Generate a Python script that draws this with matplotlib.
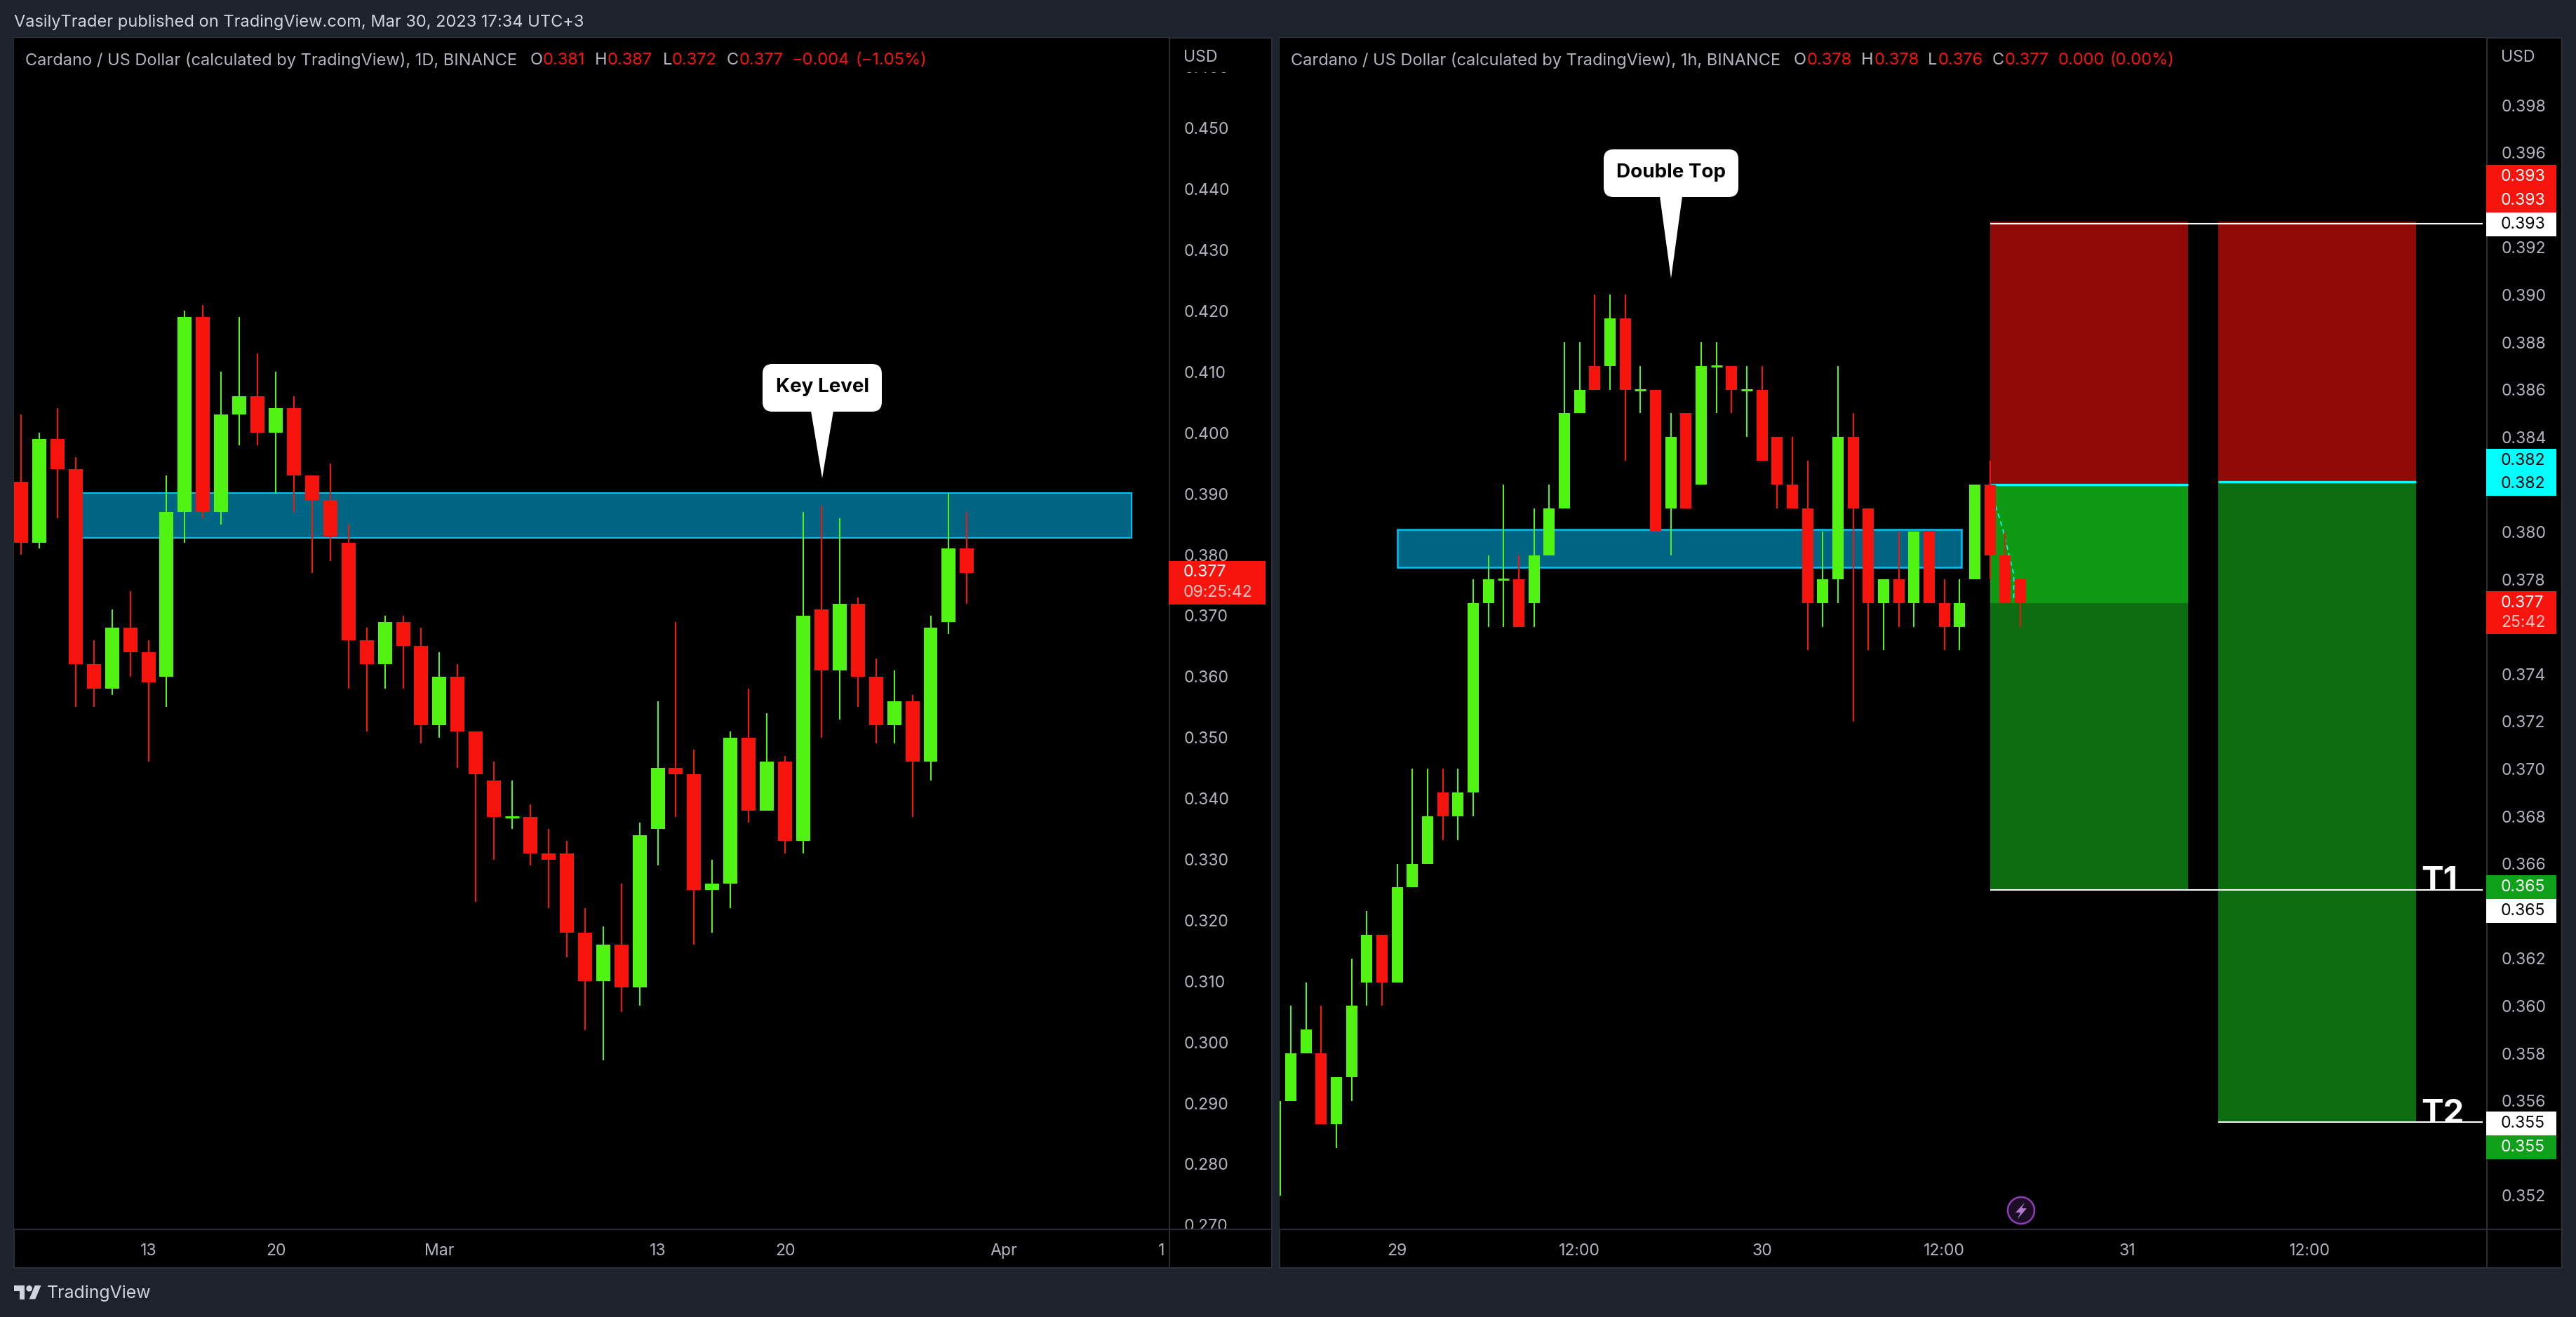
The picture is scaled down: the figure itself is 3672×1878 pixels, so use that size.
import matplotlib
matplotlib.use("Agg")
import matplotlib.pyplot as plt
import numpy as np
from matplotlib.patches import Rectangle, Polygon, Circle, FancyBboxPatch
from matplotlib.transforms import Affine2D

plt.rcParams["font.family"] = ["Inter", "DejaVu Sans"]

# daily candles
d_open = [.392, .382, .399, .394, .362, .358, .368, .364, .360, .387, .419, .387, .403, .406, .400, .404, .393, .389,
          .382, .366, .362, .369, .365, .352, .360, .351, .343, .337, .337, .331, .331, .318, .310, .316, .309, .335,
          .345, .344, .325, .326, .350, .338, .346, .333, .371, .361, .372, .360, .352, .356, .346, .369, .381]
d_high = [.403, .400, .404, .396, .366, .371, .374, .366, .393, .420, .421, .410, .419, .413, .410, .406, .393, .395,
          .385, .368, .370, .370, .368, .364, .362, .351, .346, .343, .339, .335, .333, .322, .319, .326, .336, .356,
          .369, .348, .330, .351, .358, .354, .347, .387, .388, .386, .373, .363, .361, .357, .370, .390, .387]
d_low = [.380, .381, .386, .355, .355, .357, .360, .346, .355, .382, .386, .385, .398, .398, .390, .387, .377, .379,
         .358, .351, .358, .358, .349, .350, .345, .323, .330, .335, .329, .322, .314, .302, .297, .305, .306, .329,
         .337, .316, .318, .322, .336, .338, .331, .331, .350, .353, .355, .349, .349, .337, .343, .367, .372]
d_close = [.382, .399, .394, .362, .358, .368, .364, .359, .387, .419, .387, .403, .406, .400, .404, .393, .389, .383,
           .366, .362, .369, .365, .352, .360, .351, .344, .337, .337, .331, .330, .318, .310, .316, .309, .334, .345,
           .344, .325, .326, .350, .338, .346, .333, .370, .361, .372, .360, .352, .356, .346, .368, .381, .377]

# hourly candles
h_open = [.352, .356, .358, .358, .355, .357, .361, .363, .361, .365, .366, .369, .368, .369, .377, .378, .378, .377,
          .379, .381, .385, .387, .387, .389, .386, .386, .381, .385, .382, .387, .387, .386, .386, .384, .382, .381,
          .377, .378, .384, .381, .377, .378, .377, .380, .377, .376, .378, .382, .379, .378]
h_high = [.356, .360, .361, .360, .357, .362, .364, .363, .366, .370, .370, .370, .370, .378, .379, .382, .379, .381,
          .382, .388, .388, .390, .390, .390, .387, .386, .385, .385, .388, .388, .387, .387, .387, .384, .384, .383,
          .380, .387, .385, .381, .378, .380, .380, .380, .378, .378, .382, .383, .380, .378]
h_low = [.352, .356, .358, .355, .354, .356, .360, .360, .361, .365, .366, .367, .367, .368, .376, .376, .376, .376,
         .379, .381, .385, .386, .386, .383, .385, .380, .379, .381, .382, .385, .385, .384, .383, .381, .381, .375,
         .376, .377, .372, .375, .375, .376, .376, .377, .375, .375, .378, .378, .377, .376]
h_close = [.356, .358, .359, .355, .357, .360, .363, .361, .365, .366, .368, .368, .369, .377, .378, .378, .376, .379,
           .381, .385, .386, .386, .389, .386, .386, .380, .384, .381, .387, .387, .386, .386, .383, .382, .381, .377,
           .378, .384, .381, .377, .378, .377, .380, .377, .376, .377, .382, .379, .377, .377]

d_ticks = [.270, .280, .290, .300, .310, .320, .330, .340, .350, .360, .370, .380, .390, .400, .410, .420, .430, .440,
           .450, .460]
h_ticks = [.352, .356, .358, .360, .362, .366, .368, .370, .372, .374, .378, .380, .384, .386, .388, .390, .392, .396,
           .398]
d_xticks = [7, 14, 23, 35, 42, 54, 62.7]
d_xlabels = ["13", "20", "Mar", "13", "20", "Apr", "1"]
h_xticks = [8, 20, 32, 44, 56, 68]
h_xlabels = ["29", "12:00", "30", "12:00", "31", "12:00"]

key_level = [.3828, .3901]
neckline = [.3785, .3801]
stop = .3931
entry_a = .3820
entry_b = .3821
now = .377
t1 = .3649
t2 = .3551
path_x = [47.36, 47.85, 48.56, 48.56]
path_y = [.3811, .3801, .3782, .3772]

UP = "#50F312"
DOWN = "#F7140C"
BG = "#1E222D"
TEXT = "#B2B5BE"
LINE = "#2A2C33"
RED_BOX = "#8F0A06"
GREEN_BOX = "#0F9A14"
DARK_GREEN = "#0D6E11"
ZONE = "#006684"
ZONE_EDGE = "#00C2F5"
TAG_GREEN = "#10A11B"
CYAN = "#00FFFF"
W, H = 3672, 1878
FS = 16.6
HEAD = 17

fig = plt.figure(figsize=(W / 100, H / 100), dpi=100, facecolor=BG)
pix = Affine2D().scale(1, -1).translate(0, H)


def rect(x0, y0, x1, y1, color, z=1, edge="none", lw=0):
    fig.add_artist(Rectangle((x0, y0), x1 - x0, y1 - y0, transform=pix, facecolor=color, edgecolor=edge, linewidth=lw, zorder=z))


def label(x, y, s, color=TEXT, size=FS, ha="left", weight="normal", z=5):
    fig.text(x, y, s, transform=pix, color=color, fontsize=size, ha=ha, va="center", fontweight=weight, zorder=z)


def tag(y0, y1, s, color, tcolor, x0=3544, x1=3644, tx=3565):
    rect(x0, y0, x1, y1, color, z=4)
    label(tx, (y0 + y1) / 2, s, tcolor)


def make_axes(x0, x1, x_first, step, y_ref, p_ref, scale):
    ax = fig.add_axes([x0 / W, 1 - 1753 / H, (x1 - x0) / W, (1753 - 54) / H], facecolor="black")
    ax.set_xlim((x0 - x_first) / step, (x1 - x_first) / step)
    ax.set_ylim(p_ref - (1753 - y_ref) / scale, p_ref + (y_ref - 54) / scale)
    for s in ax.spines.values():
        s.set_visible(False)
    ax.yaxis.tick_right()
    ax.tick_params(axis="both", length=0, labelcolor=TEXT, labelsize=FS)
    ax.tick_params(axis="y", pad=14.6)
    ax.tick_params(axis="x", pad=14.5)
    return ax


def candles(ax, o, h, l, c, width):
    o, h, l, c = map(np.array, (o, h, l, c))
    x = np.arange(len(o))
    colors = [UP if b >= a else DOWN for a, b in zip(o, c)]
    ax.vlines(x, l, h, colors=colors, linewidth=1.44, zorder=5)
    bottom = np.minimum(o, c)
    ax.bar(x, np.abs(c - o), width, bottom=bottom, color=colors, linewidth=0, zorder=6)
    flat = o == c
    ax.hlines(o[flat], x[flat] - width / 2, x[flat] + width / 2, color=UP, linewidth=2.2, zorder=6)


# panes
for x0, x1, div in [(20, 1813, 1667), (1824, 3652, 3545)]:
    rect(x0, 54, x1, 1808, "black", z=-1, edge="#2A2E39", lw=1.5)

ax1 = make_axes(20, 1667, 30, 25.93, 182.7, .450, 8690)
ax2 = make_axes(1824, 3545, 1818.3, 21.67, 150, .398, 33800)

candles(ax1, d_open, d_high, d_low, d_close, 0.771)
candles(ax2, h_open, h_high, h_low, h_close, 0.738)

ax1.set_yticks(d_ticks, [f"{v:.3f}" for v in d_ticks])
ax2.set_yticks(h_ticks, [f"{v:.3f}" for v in h_ticks])
ax1.set_xticks(d_xticks, d_xlabels)
ax2.set_xticks(h_xticks, h_xlabels)

ax1.add_patch(Rectangle((3.2, key_level[0]), 57.85, key_level[1] - key_level[0], facecolor=ZONE, edgecolor=ZONE_EDGE, linewidth=1.5, zorder=2))
ax2.add_patch(Rectangle((8, neckline[0]), 37.1, neckline[1] - neckline[0], facecolor=ZONE, edgecolor=ZONE_EDGE, linewidth=1.8, zorder=2))

# short position boxes
ax2.fill_between([47, 60], entry_a, stop, color=RED_BOX, linewidth=0, zorder=1)
ax2.fill_between([47, 60], now, entry_a, color=GREEN_BOX, linewidth=0, zorder=1)
ax2.fill_between([47, 60], t1, now, color=DARK_GREEN, linewidth=0, zorder=1)
ax2.fill_between([62, 75], entry_b, stop, color=RED_BOX, linewidth=0, zorder=1)
ax2.fill_between([62, 75], t2, entry_b, color=DARK_GREEN, linewidth=0, zorder=1)
ax2.hlines([entry_a, entry_b], [47, 62], [60, 75], color=CYAN, linewidth=2.4, zorder=3)
ax2.hlines([.393, t1, t2], [47, 47, 62], 79.4, color="white", linewidth=1.5, zorder=3)
ax2.plot(path_x, path_y, color=CYAN, linewidth=1.2, linestyle=(0, (4, 3)), zorder=3)

# price axis covers and dividers
rect(1668, 55, 1812, 103, "black", z=2)
rect(1668, 1754, 1812, 1807, "black", z=2)
rect(1666, 54, 1668, 1808, LINE, z=3)
rect(3544, 54, 3546, 1808, LINE, z=3)
rect(20, 1752, 1813, 1754, LINE, z=3)
rect(1824, 1752, 3652, 1754, LINE, z=3)

label(1687, 82, "USD")
label(3565, 82, "USD")

# header and titles
label(20, 32, "VasilyTrader published on TradingView.com, Mar 30, 2023 17:34 UTC+3", color="#D1D4DC", size=HEAD)
label(36, 86, "Cardano / US Dollar (calculated by TradingView), 1D, BINANCE", size=HEAD)
for x, s, c in [(756, "O", TEXT), (774, "0.381", DOWN), (848, "H", TEXT), (866, "0.387", DOWN), (945, "L", TEXT),
                (958, "0.372", DOWN), (1036, "C", TEXT), (1054, "0.377", DOWN), (1129, "−0.004", DOWN), (1219, "(−1.05%)", DOWN)]:
    label(x, 86, s, color=c, size=HEAD)
label(1840, 86, "Cardano / US Dollar (calculated by TradingView), 1h, BINANCE", size=HEAD)
for x, s, c in [(2557, "O", TEXT), (2576, "0.378", DOWN), (2653, "H", TEXT), (2672, "0.378", DOWN), (2748, "L", TEXT),
                (2763, "0.376", DOWN), (2840, "C", TEXT), (2858, "0.377", DOWN), (2934, "0.000", DOWN), (3007, "(0.00%)", DOWN)]:
    label(x, 86, s, color=c, size=HEAD)

# price tags
rect(1666, 800, 1804, 862, DOWN, z=4)
label(1687, 816, "0.377", "white")
label(1687, 845, "09:25:42", "#FFC4C2")
tag(235, 269, "0.393", DOWN, "white")
tag(269, 303, "0.393", DOWN, "white")
tag(303, 337, "0.393", "white", "black")
tag(640, 674, "0.382", CYAN, "black")
tag(674, 707, "0.382", CYAN, "black")
rect(3544, 843, 3644, 904, DOWN, z=4)
label(3565, 860, "0.377", "white")
label(3565, 888, "25:42", "#FFC4C2")
tag(1248, 1282, "0.365", TAG_GREEN, "white")
tag(1282, 1316, "0.365", "white", "black")
tag(1585, 1619, "0.355", "white", "black")
tag(1619, 1653, "0.355", TAG_GREEN, "white")

label(3451, 1257, "T1", "white", 34, weight="bold")
label(3451, 1589, "T2", "white", 34, weight="bold")


def callout(x0, y0, x1, y1, half, tip, s):
    cx = (x0 + x1) / 2
    fig.add_artist(FancyBboxPatch((x0 + 14, y0 + 14), x1 - x0 - 28, y1 - y0 - 28, boxstyle="round,pad=14,rounding_size=14", transform=pix, facecolor="white", edgecolor="none", zorder=4))
    fig.add_artist(Polygon([(cx - half, y1 - 1), (cx + half, y1 - 1), (cx, tip)], transform=pix, facecolor="white", edgecolor="none", zorder=4))
    label(cx, (y0 + y1) / 2 - 1, s, "black", 20, ha="center", weight="bold")


callout(1087, 519, 1257, 587, 16, 682, "Key Level")
callout(2286, 213, 2478, 281, 16, 397, "Double Top")

# replay icon
fig.add_artist(Circle((2881, 1726), 19, transform=pix, facecolor="#1B0E24", edgecolor="#8E3FB5", linewidth=1.8, zorder=4))
fig.add_artist(Polygon([(2886, 1715), (2873, 1729), (2880, 1729), (2876, 1738), (2889, 1723), (2882, 1723)], transform=pix, facecolor="#B07AD0", edgecolor="none", zorder=5))

# logo
k = 39 / 36
to_px = lambda pts: [(20 + u * k, 1833 + (v - 4) * k) for u, v in pts]
logo = "#D1D4DC"
fig.add_artist(Polygon(to_px([(0, 4), (14, 4), (14, 22), (7, 22), (7, 11), (0, 11)]), transform=pix, facecolor=logo, edgecolor="none"))
fig.add_artist(Polygon(to_px([(20, 22), (28, 22), (35.5, 4), (27.5, 4)]), transform=pix, facecolor=logo, edgecolor="none"))
fig.add_artist(Circle(to_px([(20, 8)])[0], 4 * k, transform=pix, facecolor=logo, edgecolor="none"))
label(67, 1844, "TradingView", logo, 17.9)

fig.savefig("out.png", dpi=100, facecolor=BG)
